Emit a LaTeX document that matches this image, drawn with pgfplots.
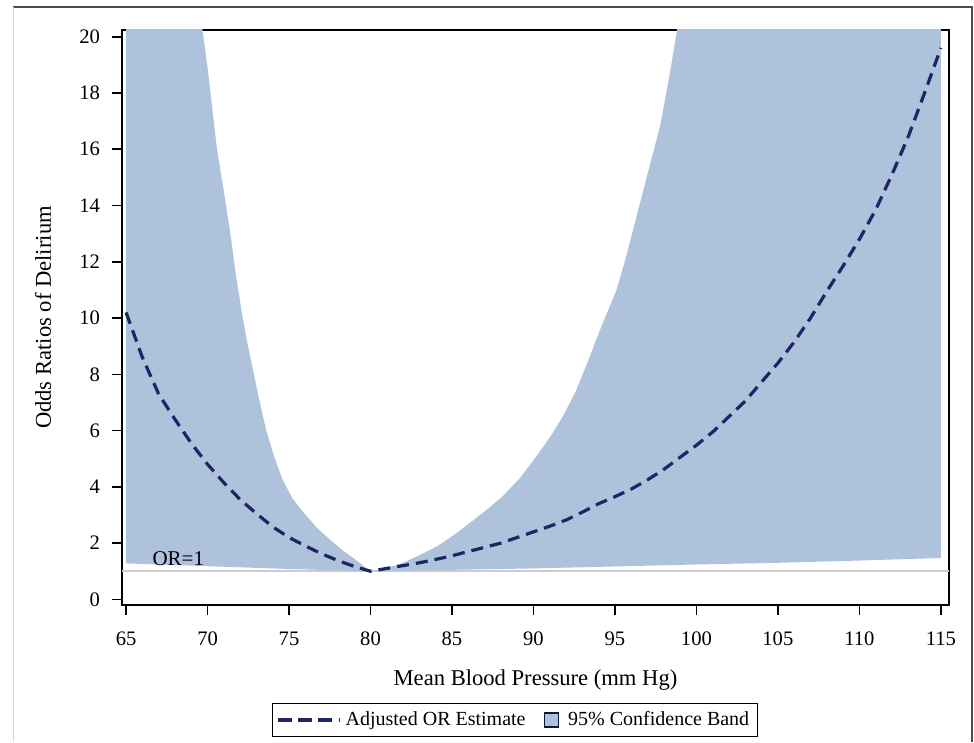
\documentclass[border=0pt]{standalone}
\usepackage{fontspec}
\setmainfont{Liberation Serif}
\usepackage{pgfplots}
\pgfplotsset{compat=1.18}

\definecolor{band}{RGB}{175,194,220}
\definecolor{navy}{RGB}{27,38,102}

\begin{document}
\begin{tikzpicture}
\begin{axis}[
  name=main,
  scale only axis,
  width=413.5pt, height=287.5pt,
  xmin=64.75, xmax=115.5, ymin=-0.2, ymax=20.24,
  xtick={65,70,...,115}, ytick={0,2,...,20},
  tick align=outside, tick pos=left,
  major tick length=5pt,
  tick style={black, line width=0.8pt},
  axis line style={line width=0.9pt},
  ticklabel style={font=\fontsize{10.3}{12}\selectfont},
  xticklabel style={yshift=-5pt},
  yticklabel style={xshift=-2.5pt},
  /pgf/number format/assume math mode=true,
  xlabel={Mean Blood Pressure (mm Hg)},
  ylabel={Odds Ratios of Delirium},
  label style={font=\fontsize{11.3}{13}\selectfont},
  xlabel style={at={(axis description cs:0.5,-0.13)}, anchor=center},
  ylabel style={at={(axis description cs:-0.0955,0.5)}, anchor=center},
  legend style={at={(axis description cs:0.475,-0.2)}, anchor=center,
    draw=black, line width=0.6pt, font=\fontsize{10}{12}\selectfont,
    inner sep=2pt, /tikz/every even column/.append style={column sep=7pt}},
  legend columns=2,
]
\addlegendimage{legend image code/.code={\draw[navy, line width=1.6pt,
    dash pattern=on 7pt off 3pt on 7pt off 3pt on 7pt off 3.5pt on 0.8pt off 20pt]
    (0pt,0pt) -- (31pt,0pt);}}
\addlegendentry{Adjusted OR Estimate}
\addlegendimage{legend image code/.code={\draw[fill=band, draw=navy!60!black,
    line width=0.6pt] (0pt,-3.5pt) rectangle (7pt,3.5pt);
    \path[draw=none, fill=none] (0pt,0pt) rectangle (10pt,0pt);}}
\addlegendentry{95\% Confidence Band}

% reference line OR=1
\addplot[black!20, line width=1pt, forget plot] coordinates {(64.75,1) (115.5,1)};

% 95% confidence band: upper bound left to right, lower bound right to left
\addplot[fill=band, draw=none, forget plot] table {
x y
65 40
68 28
69.7 20.2
70.0 18.9
70.58 16.0
71.0 14.5
71.4 13.0
71.75 11.5
72.1 10.2
72.4 9.25
72.7 8.4
73.15 7.15
73.6 6.0
74.1 5.05
74.6 4.26
75.2 3.6
75.9 3.08
76.7 2.55
77.5 2.13
78.2 1.78
78.9 1.49
79.5 1.22
80.0 1.0
80.5 1.05
81.0 1.12
81.5 1.2
82.0 1.3
83.0 1.57
84.1 1.89
85.1 2.28
86.1 2.72
87.1 3.17
88.1 3.66
89.2 4.33
90.2 5.1
91.0 5.75
91.8 6.5
92.6 7.4
93.3 8.4
94.1 9.6
95.1 11.0
95.6 12.0
96.1 13.1
96.5 14.0
96.9 14.9
97.4 16.0
97.8 16.9
98.1 17.85
98.4 18.8
98.8 20.2
99.3 22.5
102 30
115 60
115 1.47
110 1.38
105 1.30
100 1.24
95 1.17
90 1.10
85 1.05
82 1.02
80 1.0
78 1.03
75 1.08
70 1.18
65 1.28
} -- cycle;

% adjusted OR estimate
\addplot[navy, line width=1.6pt, dash pattern=on 6pt off 3.5pt, forget plot] table {
x y
65 10.2
66 8.6
67 7.3
68 6.4
69 5.55
70 4.8
71 4.15
72 3.55
73 3.05
74 2.58
75 2.2
76 1.9
77 1.62
78 1.38
79 1.17
80 1.0
81 1.1
82 1.2
83 1.3
84 1.42
85 1.55
86 1.7
87 1.85
88 2.0
89 2.2
90 2.4
91 2.6
92 2.82
93 3.1
94 3.4
95 3.65
96 3.92
97 4.25
98 4.62
99 5.05
100 5.48
101 5.95
102 6.5
103 7.05
104 7.73
105 8.4
106 9.15
107 10.0
108 10.95
109 11.85
110 12.8
111 13.85
112 15.1
113 16.45
114 18.0
115 19.6
};

\node[anchor=base west, inner sep=0pt, font=\fontsize{10.5}{12}\selectfont]
  at (axis cs:66.6,1.22) {OR=1};
\end{axis}

% outer frame of the figure
\draw[black!70, line width=0.8pt] ([shift={(-54.5pt,299pt)}]main.south west)
  -- ([shift={(425pt,299pt)}]main.south west)
  -- ([shift={(425pt,-68.5pt)}]main.south west);
\draw[black!15] ([shift={(-54.5pt,299pt)}]main.south west)
  -- ([shift={(-54.5pt,-68.5pt)}]main.south west);
\path ([shift={(-61pt,-68.5pt)}]main.south west)
  rectangle ([shift={(426pt,302.5pt)}]main.south west);
\end{tikzpicture}
\end{document}
